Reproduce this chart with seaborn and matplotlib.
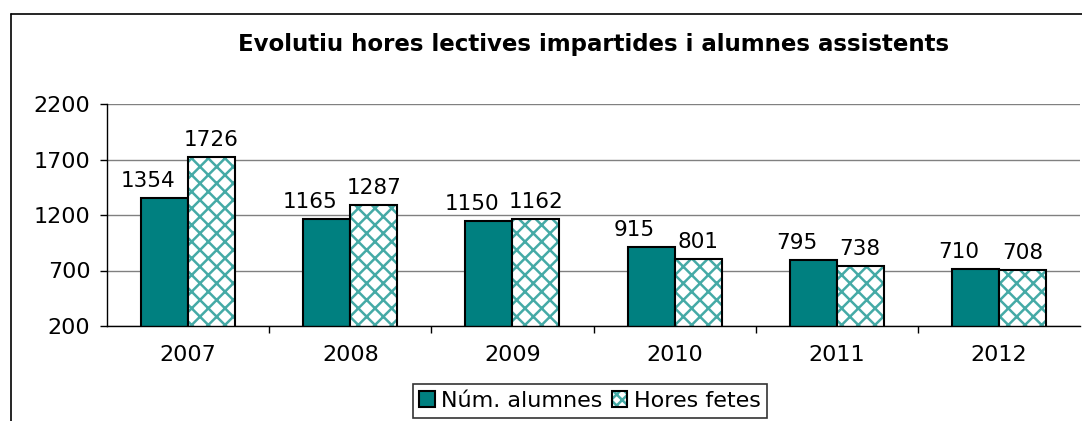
import pandas as pd
import matplotlib
matplotlib.use('Agg')
import matplotlib.pyplot as plt
import seaborn as sns
from matplotlib.patches import Rectangle
from matplotlib.lines import Line2D
from matplotlib.legend_handler import HandlerTuple

# Data
years = ['2007', '2008', '2009', '2010', '2011', '2012']
alumnes = [1354, 1165, 1150, 915, 795, 710]
hores = [1726, 1287, 1162, 801, 738, 708]
series_names = ['Núm. alumnes', 'Hores fetes']

teal = '#008080'
hatch_teal = '#45aaa6'

df = pd.DataFrame({
    'year': years * 2,
    'value': alumnes + hores,
    'serie': [series_names[0]] * len(years) + [series_names[1]] * len(years),
})

sns.set_style('white')
plt.rcParams['font.family'] = ['DejaVu Sans']
plt.rcParams['text.color'] = 'black'
plt.rcParams['xtick.color'] = 'black'
plt.rcParams['ytick.color'] = 'black'
plt.rcParams['hatch.linewidth'] = 1.8

fig = plt.figure(figsize=(10.82, 4.21), dpi=100)
ax = fig.add_axes([107 / 1082, 1 - 326 / 421, (1080 - 107) / 1082, (326 - 104) / 421])

sns.barplot(data=df, x='year', y='value', hue='serie', palette=[teal, 'white'],
            width=0.58, saturation=1, edgecolor='black', linewidth=1.5, ax=ax,
            legend=False)

# hatched series: hatch drawn in teal, black outline drawn on top
for p in ax.containers[1]:
    p.set_facecolor('white')
    p.set_edgecolor(hatch_teal)
    p.set_hatch('xx')
    p.set_linewidth(0)
    ax.add_patch(Rectangle((p.get_x(), p.get_y()), p.get_width(), p.get_height(),
                           fill=False, edgecolor='black', linewidth=1.5, zorder=p.get_zorder() + 0.1))

# value labels
for ci, cont in enumerate(ax.containers[:2]):
    dx = -12 if ci == 0 else 0
    for p, v in zip(cont, [alumnes, hores][ci]):
        ax.annotate(str(v), (p.get_x() + p.get_width() / 2, p.get_height()),
                    xytext=(dx, 5), textcoords='offset points', ha='center', va='bottom',
                    fontsize=15.5, color='black')

ax.set_ylim(200, 2200)
ax.set_xlim(-0.5, len(years) - 0.5)
ax.set_yticks([200, 700, 1200, 1700, 2200])
ax.yaxis.grid(True, color='#808080', linewidth=1)
ax.set_axisbelow(True)
ax.set_xlabel('')
ax.set_ylabel('')

for side in ['top', 'right']:
    ax.spines[side].set_visible(False)
for side in ['left', 'bottom']:
    ax.spines[side].set_color('black')
    ax.spines[side].set_linewidth(1)

ax.tick_params(axis='y', which='major', length=5, width=1, color='black', labelcolor='black',
               pad=7, labelsize=16, left=True)
ax.tick_params(axis='x', which='major', length=0, pad=14, labelsize=16, labelcolor='black')
ax.set_xticks([i + 0.5 for i in range(len(years) - 1)], minor=True)
ax.tick_params(axis='x', which='minor', length=5, width=1, color='black', bottom=True)

fig.text(594 / 1082, 1 - 45 / 421, 'Evolutiu hores lectives impartides i alumnes assistents',
         ha='center', va='center', fontsize=16.5, fontweight='bold', color='black')

# outer chart border (left and top visible)
fig.add_artist(Line2D([11 / 1082, 11 / 1082], [0, 1 - 14 / 421], color='black', linewidth=1.2))
fig.add_artist(Line2D([11 / 1082, 1.0], [1 - 14 / 421, 1 - 14 / 421], color='black', linewidth=1.2))

h_alumnes = Rectangle((0, 0), 1, 1, facecolor=teal, edgecolor='black', linewidth=1.5)
h_hores = (Rectangle((0, 0), 1, 1, facecolor='white', edgecolor=hatch_teal, linewidth=0, hatch='xxx'),
           Rectangle((0, 0), 1, 1, fill=False, edgecolor='black', linewidth=1.5))
leg = fig.legend([h_alumnes, h_hores], series_names, loc='center',
                 bbox_to_anchor=(590 / 1082, 1 - 401 / 421),
                 handler_map={tuple: HandlerTuple(ndivide=1, pad=0)},
                 ncol=2, fontsize=16, frameon=True, fancybox=False, edgecolor='black',
                 handlelength=0.7, handleheight=0.7, handletextpad=0.3, columnspacing=0.4,
                 borderpad=0.3, borderaxespad=0)
leg.get_frame().set_linewidth(1.2)

fig.savefig('out.png', dpi=100)
